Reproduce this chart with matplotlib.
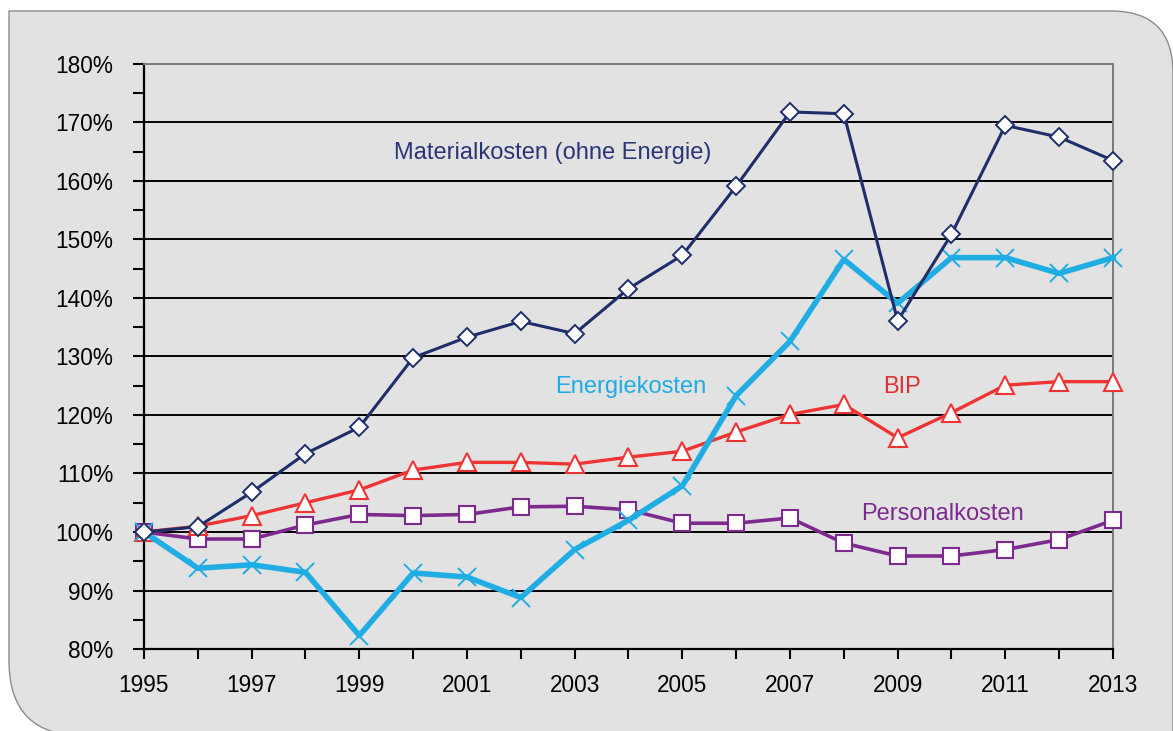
import numpy as np
import matplotlib
matplotlib.use("Agg")
import matplotlib.pyplot as plt
from matplotlib.path import Path
from matplotlib.patches import PathPatch
from matplotlib.ticker import MultipleLocator, FuncFormatter

plt.rcParams['font.family'] = ['Liberation Sans', 'DejaVu Sans']

years = list(range(1995, 2014))
material = [100, 100.9, 106.8, 113.4, 117.9, 129.8, 133.3, 136.0, 133.9, 141.6, 147.3,
            159.1, 171.8, 171.5, 136.1, 150.9, 169.5, 167.5, 163.5]
energie = [100, 93.8, 94.4, 93.1, 82.3, 93.0, 92.3, 88.8, 97.0, 102.0, 107.9,
           123.3, 132.6, 146.6, 139.1, 146.9, 146.9, 144.2, 146.9]
bip = [100, 101.0, 102.8, 105.0, 107.2, 110.6, 111.9, 111.9, 111.6, 112.8, 113.8,
       117.1, 120.1, 121.8, 116.1, 120.4, 125.1, 125.7, 125.7]
personal = [100, 98.8, 98.8, 101.2, 103.0, 102.8, 103.0, 104.3, 104.4, 103.8, 101.5,
            101.5, 102.4, 98.1, 95.9, 95.9, 97.0, 98.7, 102.0]

W, H = 1173, 731
fig = plt.figure(figsize=(W / 100, H / 100), dpi=100)
fig.patch.set_facecolor('white')

# grey panel with rounded top-right and bottom-left corners (pixel coords -> figure coords)
r1, r2 = 62, 75
pts = [(9, 11), (W - r1, 11), (W, 11), (W, 11 + r1), (W, H + 5), (9 + r2, H + 5),
       (9, H + 5), (9, H + 5 - r2), (9, 11)]
codes = [Path.MOVETO, Path.LINETO, Path.CURVE3, Path.CURVE3, Path.LINETO, Path.LINETO,
         Path.CURVE3, Path.CURVE3, Path.CLOSEPOLY]
pts = [(x / W, 1 - y / H) for x, y in pts]
panel = PathPatch(Path(pts, codes), transform=fig.transFigure, facecolor='#e2e2e2',
                  edgecolor='#8c8c8c', lw=1.0, zorder=-5)
fig.patches.append(panel)

ax = fig.add_axes([144 / W, 1 - 649 / H, (1113 - 144) / W, (649 - 64) / H])
ax.set_zorder(2)
ax.set_facecolor('none')

ax.set_xlim(1995, 2013)
ax.set_ylim(80, 180)

for v in range(90, 180, 10):
    ax.axhline(v, color='black', lw=1.4, zorder=1)

ax.plot(years, personal, color='#7d2a8e', lw=2.6, marker='s', ms=12, mfc='white',
        mec='#7d2a8e', mew=1.5, zorder=3, clip_on=False)
ax.plot(years, bip, color='#ef3434', lw=2.4, marker='^', ms=13, mfc='white',
        mec='#ef3434', mew=1.5, zorder=4, clip_on=False)
ax.plot(years, energie, color='#1fade3', lw=4.0, marker='x', ms=13, mec='#1fade3',
        mew=1.4, zorder=5, clip_on=False)
ax.plot(years, material, color='#1f2d6b', lw=2.2, marker='D', ms=9.5, mfc='white',
        mec='#1f2d6b', mew=1.4, zorder=6, clip_on=False)

ax.text(2002.6, 164.8, 'Materialkosten (ohne Energie)', color='#2a3577', fontsize=17,
        ha='center', va='center')
ax.text(2004.05, 124.8, 'Energiekosten', color='#1fade3', fontsize=17, ha='center', va='center')
ax.text(2009.08, 124.8, 'BIP', color='#e03030', fontsize=17, ha='center', va='center')
ax.text(2009.84, 103.1, 'Personalkosten', color='#7d2a8e', fontsize=17, ha='center', va='center')

ax.yaxis.set_major_locator(MultipleLocator(10))
ax.yaxis.set_minor_locator(MultipleLocator(5))
ax.yaxis.set_major_formatter(FuncFormatter(lambda v, p: '%d%%' % v))
ax.set_xticks(years, minor=True)
ax.set_xticks(list(range(1995, 2014, 2)))
ax.tick_params(axis='y', which='both', direction='out', length=8, width=1.5, labelsize=16.3,
               pad=14, colors='black')
ax.tick_params(axis='x', which='both', direction='out', length=7, width=1.5, labelsize=16.3,
               pad=11, colors='black')

for s in ['left', 'bottom']:
    ax.spines[s].set_color('black')
    ax.spines[s].set_linewidth(1.6)
for s in ['top', 'right']:
    ax.spines[s].set_color('#7a7a7a')
    ax.spines[s].set_linewidth(1.4)

fig.savefig('out.png', dpi=100)
